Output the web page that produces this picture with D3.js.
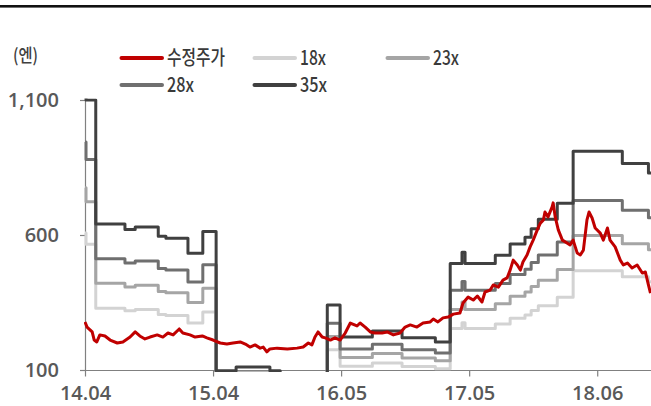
<!DOCTYPE html>
<html>
<head>
<meta charset="utf-8">
<script src="https://cdn.jsdelivr.net/npm/d3@7"></script>
<style>
  html, body { margin: 0; padding: 0; background: #fff; }
  svg { display: block; }
</style>
</head>
<body>
<svg id="chart" width="651" height="406"></svg>
<script>
// ---- data ----
const xTickIdx = [0, 250, 500, 750, 1000];
const xTickLabels = ["14.04", "15.04", "16.05", "17.05", "18.06"];
const yTicks = [100, 600, 1100];

// step break points (trading-day index) shared by the multiple bands
const stepIdx = [0,2,21,78,98,143,158,201,230,256,295,361,381,473,498,561,619,684,713,736,742,801,830,859,871,885,922,953,1049,1100,1105];
const band18 = [607,566,329,319,324,306,302,274,315,50,57,50,27,175,114,126,113,105,254,275,254,270,292,304,320,338,369,468,445,427,427];
const band23 = [775,723,421,407,414,391,386,350,403,64,73,64,35,224,146,161,144,134,324,352,324,345,373,389,409,432,472,598,568,545,545];
const band28 = [944,880,512,496,504,476,470,426,490,78,89,78,42,273,178,195,175,163,395,428,395,420,454,473,498,526,574,728,692,664,664];
const band35 = [1180,1100,641,620,630,595,588,532,613,97,111,97,53,341,222,244,219,204,494,536,494,525,567,592,623,658,718,910,865,830,830];

// adjusted share price
const priceIdx = [0,4,14,18,23,29,39,49,63,74,88,98,107,117,127,141,152,162,172,184,191,205,215,229,238,250,264,277,289,303,313,322,332,342,348,355,361,375,395,414,426,436,443,449,455,463,469,479,488,498,508,518,531,537,547,557,566,580,590,602,615,625,635,648,660,674,680,689,699,709,719,732,738,748,758,766,775,781,791,797,807,816,824,830,836,844,850,855,863,869,875,883,889,895,898,904,912,914,918,924,932,941,947,953,961,967,973,980,984,990,996,1006,1012,1020,1025,1035,1045,1051,1059,1068,1078,1088,1094,1100,1104];
const priceVal = [278,259,241,211,204,230,226,211,200,204,222,241,226,215,222,230,222,237,230,252,237,230,222,226,219,211,200,196,200,204,196,185,193,181,185,167,178,181,178,181,185,200,193,222,241,222,219,211,219,211,237,274,263,274,259,241,237,237,241,230,237,259,267,259,274,278,289,278,293,296,307,311,348,370,359,374,352,389,396,415,407,433,441,470,507,489,470,500,526,556,581,619,644,656,685,667,704,719,667,619,581,570,563,581,533,526,544,656,685,663,626,607,581,626,581,556,507,489,496,478,489,459,463,415,385];

const legendLabels = ["수정주가", "18x", "23x", "28x", "35x"];
const seriesColors = ["#c00000", "#d3d3d3", "#a5a5a5", "#6f6f6f", "#404040"];

// ---- drawing ----
const svg = d3.select("#chart");
const x = d3.scaleLinear().domain([0, 1105]).range([85, 651]);
const y = d3.scaleLinear().domain([100, 1100]).range([370, 100]);

// top rule
svg.append("rect").attr("x", 0).attr("y", 5).attr("width", 651).attr("height", 2.6).attr("fill", "#111");

svg.append("defs").append("clipPath").attr("id", "plotClip")
  .append("rect").attr("x", 84).attr("y", 98.5).attr("width", 570).attr("height", 273.5);

const axisColor = "#808080";
const labelColor = "#595959";

// axes
const yAxis = svg.append("g").attr("transform", "translate(85,0)")
  .call(d3.axisLeft(y).tickValues(yTicks).tickFormat(d3.format(",")).tickSize(5).tickPadding(21).tickSizeOuter(0));
const xAxis = svg.append("g").attr("transform", "translate(0,370.5)")
  .call(d3.axisBottom(x).tickValues(xTickIdx).tickFormat((d, i) => xTickLabels[i]).tickSize(6).tickPadding(9).tickSizeOuter(0));
[yAxis, xAxis].forEach(g => {
  g.select(".domain").attr("stroke", axisColor).attr("stroke-width", 1.2);
  g.selectAll(".tick line").attr("stroke", axisColor).attr("stroke-width", 1.2);
  g.selectAll(".tick text").attr("fill", labelColor)
    .style("font-family", "'Open Sans', 'DejaVu Sans', sans-serif").style("font-size", "20px").style("font-weight", "600");
});
xAxis.select(".domain").attr("d", "M85,0H651");

// bands
const stepLine = d3.line().x((d, i) => x(stepIdx[i])).y(d => y(d)).curve(d3.curveStepAfter);
const plot = svg.append("g").attr("clip-path", "url(#plotClip)");
[band18, band23, band28, band35].forEach((arr, k) => {
  plot.append("path").datum(arr).attr("d", stepLine)
    .attr("fill", "none").attr("stroke", seriesColors[k + 1]).attr("stroke-width", 3)
    .attr("stroke-linejoin", "round");
});

// price
const priceLine = d3.line().x((d, i) => x(priceIdx[i])).y(d => y(d));
plot.append("path").datum(priceVal).attr("d", priceLine)
  .attr("fill", "none").attr("stroke", seriesColors[0]).attr("stroke-width", 3)
  .attr("stroke-linejoin", "round");

// unit label
svg.append("text").attr("x", 13).attr("y", 62).text("(엔)")
  .attr("fill", "#404040").attr("textLength", 25).attr("lengthAdjust", "spacingAndGlyphs")
  .style("font-family", "'Noto Sans CJK KR', sans-serif").style("font-size", "18px").style("font-weight", "500");

// legend
const legCols = [120, 253, 386];
const legRows = [58, 85];
const legWidths = [58, 26, 26, 27, 27];
const legend = svg.append("g");
legendLabels.forEach((lab, i) => {
  const col = i < 3 ? i : i - 3;
  const row = i < 3 ? 0 : 1;
  const lx = legCols[col], ly = legRows[row];
  legend.append("line").attr("x1", lx + 1.5).attr("x2", lx + 42).attr("y1", ly).attr("y2", ly)
    .attr("stroke", seriesColors[i]).attr("stroke-width", 4).attr("stroke-linecap", "round");
  legend.append("text").attr("x", lx + 47).attr("y", ly + 7).text(lab)
    .attr("fill", "#3a3a3a").attr("textLength", legWidths[i]).attr("lengthAdjust", "spacingAndGlyphs")
    .style("font-family", "'Noto Sans CJK KR', sans-serif").style("font-size", "20px").style("font-weight", "500");
});
</script>
</body>
</html>
